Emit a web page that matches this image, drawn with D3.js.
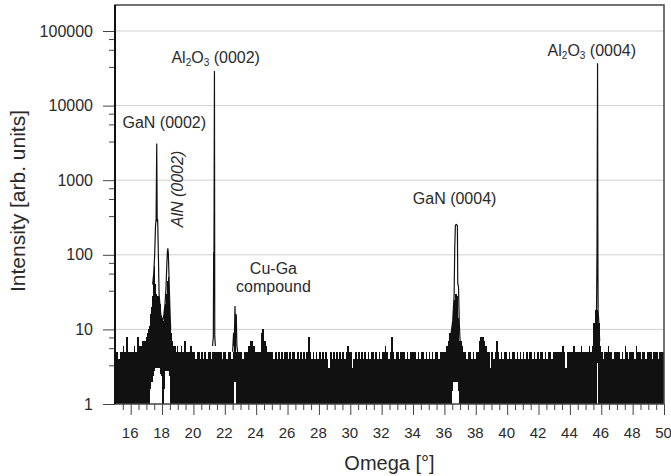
<!DOCTYPE html>
<html lang="en">
<head>
<meta charset="UTF-8">
<script src="https://d3js.org/d3.v7.min.js"></script>
<title>Omega scan</title>
<style>
  body { margin: 0; background: #fff; }
  svg text { font-family: "Liberation Sans", Arial, sans-serif; fill: #2a2a2a; }
</style>
</head>
<body>
<div id="chart"></div>
<script>
// ticks
const xTicks = d3.range(16, 51, 2);
const xMinor = d3.range(15.5, 50, 0.5).filter(d => d % 2 !== 0);
const yTicks = [1, 10, 100, 1000, 10000, 100000];
const yMinorSteps = [3.3, 5.6, 7.8];

// background counts, 0.1 deg bins from 15.0 (max of each bin, base36 digit)
// "0" = bin drawn by a fine band below
const bgStart = 15.0, bgStep = 0.1;
const bgHi =
  "5545565855" + "5565866777" + "0000000000" + "0000000000" + "5565755565" +  // 15-19
  "5455454545" + "5455555545" + "5455459555" + "5455567765" + "5559a76555" +  // 20-24
  "5454545455" + "4545545454" + "5458545454" + "5454543545" + "4545454565" +  // 25-29
  "5345454545" + "4545545454" + "5565458545" + "5455545455" + "5545455454" +  // 30-34
  "5454554555" + "5679000000" + "7655455454" + "5578876553" + "5457545455" +  // 35-39
  "4545545454" + "5454554545" + "4554545545" + "5555565355" + "5565555655" +  // 40-44
  "55656ciic6" + "5455655455" + "5545465455" + "5465545545" + "5545554555";   // 45-49
// bins whose minimum stays above zero counts
const bgLoFix = [[22.6, 2], [45.7, 3.5]];

// fine bands [omega, min, max], 0.05 deg
const ganAlnBand = [
  [17.00, 1, 8], [17.05, 1, 9], [17.10, 1, 10], [17.15, 1, 11], [17.20, 1, 13],
  [17.25, 1.6, 16], [17.30, 2, 20], [17.35, 2, 28], [17.40, 2, 40], [17.45, 2.4, 55],
  [17.50, 2.8, 70], [17.55, 3, 40], [17.60, 3, 30], [17.65, 3, 30], [17.70, 3, 28],
  [17.75, 3, 28], [17.80, 3, 25], [17.85, 2.8, 22], [17.90, 2.5, 18], [17.95, 2.4, 15],
  [18.00, 1, 14], [18.05, 1, 13], [18.10, 1, 15], [18.15, 1.6, 18], [18.20, 2.8, 22],
  [18.25, 2.8, 30], [18.30, 2.8, 45], [18.35, 2.8, 60], [18.40, 2.8, 50], [18.45, 2.4, 25],
  [18.50, 1, 12], [18.55, 1, 9], [18.60, 1, 7], [18.65, 1, 7], [18.70, 1, 6],
  [18.75, 1, 6], [18.80, 1, 5], [18.85, 1, 6], [18.90, 1, 5], [18.95, 1, 6]
];
const al2Band = [[21.28, 5, 105]];
const gan4Band = [
  [36.40, 1, 8], [36.45, 1, 10], [36.50, 1.5, 13], [36.55, 2, 18], [36.60, 2, 25],
  [36.65, 2, 30], [36.70, 2, 30], [36.75, 2, 30], [36.80, 2, 28], [36.85, 1.5, 14],
  [36.90, 1, 8], [36.95, 1, 7]
];

// peak traces [omega, counts]
const ganAlnPeak = [
  [17.40, 40], [17.47, 57], [17.53, 100], [17.58, 240], [17.62, 300], [17.66, 3100],
  [17.69, 280], [17.72, 300], [17.77, 90], [17.81, 30], [17.86, 22], [17.92, 16],
  [17.98, 14], [18.05, 13], [18.12, 16], [18.19, 22], [18.25, 35], [18.30, 70],
  [18.34, 110], [18.37, 122], [18.40, 105], [18.44, 55], [18.49, 22], [18.55, 10]
];
const al2Peak = [[21.22, 6], [21.27, 8], [21.29, 108], [21.31, 90], [21.34, 29000], [21.36, 8], [21.40, 6]];
const cuGaPeak = [[22.50, 5], [22.56, 9], [22.60, 6], [22.65, 20.6], [22.69, 8], [22.73, 16], [22.77, 6], [22.82, 5]];
const gan4Peak = [
  [36.43, 9], [36.53, 13], [36.62, 29], [36.66, 125], [36.70, 250], [36.77, 255],
  [36.83, 245], [36.85, 42], [36.90, 37], [36.95, 12], [37.00, 7]
];
const al4Peak = [
  [45.60, 10], [45.66, 12], [45.70, 20], [45.73, 123], [45.765, 37000], [45.785, 100],
  [45.80, 18], [45.85, 12], [45.90, 7]
];

// annotations [text parts, omega, counts]
const notes = [
  { parts: [["GaN (0002)"]], w: 18.14, c: 5085 },
  { parts: [["Al"], ["2", "sub"], ["O"], ["3", "sub"], [" (0002)"]], w: 21.42, c: 37800 },
  { parts: [["Al"], ["2", "sub"], ["O"], ["3", "sub"], [" (0004)"]], w: 45.40, c: 46900 },
  { parts: [["GaN (0004)"]], w: 36.65, c: 480 },
  { parts: [["Cu-Ga"]], w: 25.10, c: 55.3 },
  { parts: [["compound"]], w: 25.10, c: 31.7 }
];
const alnNote = { text: "AlN (0002)", w: 19.33, c: 762 };

const margin = { top: 5, right: 7, bottom: 72, left: 115 },
  width = 671 - margin.left - margin.right,
  height = 476 - margin.top - margin.bottom;

const svg = d3.select("#chart").append("svg")
  .attr("width", 671).attr("height", 476);
const g = svg.append("g").attr("transform", `translate(${margin.left},${margin.top})`);

const x = d3.scaleLinear().domain([15, 50]).range([0, width]);
const y = d3.scaleLog().domain([1, Math.pow(10, height / 74.6)]).range([height, 0]);

// grid lines
g.append("g").selectAll("line")
  .data(yTicks.slice(1))
  .join("line")
  .attr("x1", 0).attr("x2", width)
  .attr("y1", d => y(d)).attr("y2", d => y(d))
  .attr("stroke", "#cfcfcf").attr("stroke-width", 1);

// bins
const bins = [];
for (let k = 0; k < bgHi.length; k++) {
  const hi = parseInt(bgHi[k], 36);
  if (!hi) continue;
  const w0 = +(bgStart + k * bgStep).toFixed(2);
  const fix = bgLoFix.find(d => Math.abs(d[0] - w0) < 1e-6);
  bins.push({ w0: w0, w1: w0 + bgStep, lo: fix ? fix[1] : 1, hi: hi });
}
[ganAlnBand, al2Band, gan4Band].forEach(band => band.forEach(d => {
  bins.push({ w0: d[0], w1: d[0] + 0.05, lo: d[1], hi: d[2] });
}));

g.append("g")
  .attr("shape-rendering", "crispEdges")
  .selectAll("rect")
  .data(bins)
  .join("rect")
  .attr("x", d => x(d.w0))
  .attr("width", d => x(d.w1) - x(d.w0) + 0.05)
  .attr("y", d => y(d.hi))
  .attr("height", d => y(d.lo) - y(d.hi))
  .attr("fill", "#111");

// peak traces
const line = d3.line().x(d => x(d[0])).y(d => y(d[1]));
g.append("g").selectAll("path")
  .data([ganAlnPeak, al2Peak, cuGaPeak, gan4Peak, al4Peak])
  .join("path")
  .attr("d", line)
  .attr("fill", "none")
  .attr("stroke", "#111")
  .attr("stroke-width", 1.2);

// axes
g.append("g")
  .call(d3.axisLeft(y).tickValues(yTicks).tickFormat(d3.format("d")).tickSize(12).tickPadding(10));
const yMinor = [];
yTicks.slice(0, -1).forEach(t => yMinorSteps.forEach(s => yMinor.push(t * s)));
g.append("g")
  .call(d3.axisLeft(y).tickValues(yMinor.filter(v => v < y.domain()[1])).tickFormat("").tickSize(6));

const xAxis = g.append("g")
  .attr("transform", `translate(0,${height})`)
  .call(d3.axisBottom(x).tickValues(xTicks).tickFormat(d3.format("d")).tickSize(11).tickPadding(12));
g.append("g")
  .attr("transform", `translate(0,${height})`)
  .call(d3.axisBottom(x).tickValues(xMinor).tickFormat("").tickSize(6));

g.selectAll(".domain").remove();
g.selectAll(".tick line").attr("stroke", "#444");
g.selectAll(".tick text").style("font-size", "16px").attr("fill", "#2a2a2a");
xAxis.selectAll(".tick text").style("font-size", "15px").attr("dx", -1);

// frame
g.append("rect")
  .attr("x", 0).attr("y", 0).attr("width", width).attr("height", height)
  .attr("fill", "none").attr("stroke", "#444").attr("stroke-width", 1.5);
g.append("line")
  .attr("x1", 0).attr("x2", 0).attr("y1", 0).attr("y2", height)
  .attr("stroke", "#111").attr("stroke-width", 2);

// axis titles
svg.append("text")
  .attr("x", margin.left + width / 2).attr("y", 470)
  .attr("text-anchor", "middle")
  .style("font-size", "20px")
  .text("Omega [°]");
svg.append("text")
  .attr("transform", `translate(25,201) rotate(-90)`)
  .attr("text-anchor", "middle")
  .style("font-size", "21px")
  .text("Intensity [arb. units]");

// peak labels
notes.forEach(n => {
  const t = g.append("text")
    .attr("x", x(n.w)).attr("y", y(n.c))
    .attr("text-anchor", "middle")
    .style("font-size", "16px");
  n.parts.forEach(p => {
    const s = t.append("tspan").text(p[0]);
    if (p[1] === "sub") s.style("font-size", "10px").attr("dy", 3);
    else if (t.selectAll("tspan").size() > 1) s.attr("dy", -3);
  });
});
g.append("text")
  .attr("transform", `translate(${x(alnNote.w)},${y(alnNote.c)}) rotate(-90)`)
  .attr("text-anchor", "middle")
  .style("font-size", "16px")
  .style("font-style", "italic")
  .text(alnNote.text);
</script>
</body>
</html>
